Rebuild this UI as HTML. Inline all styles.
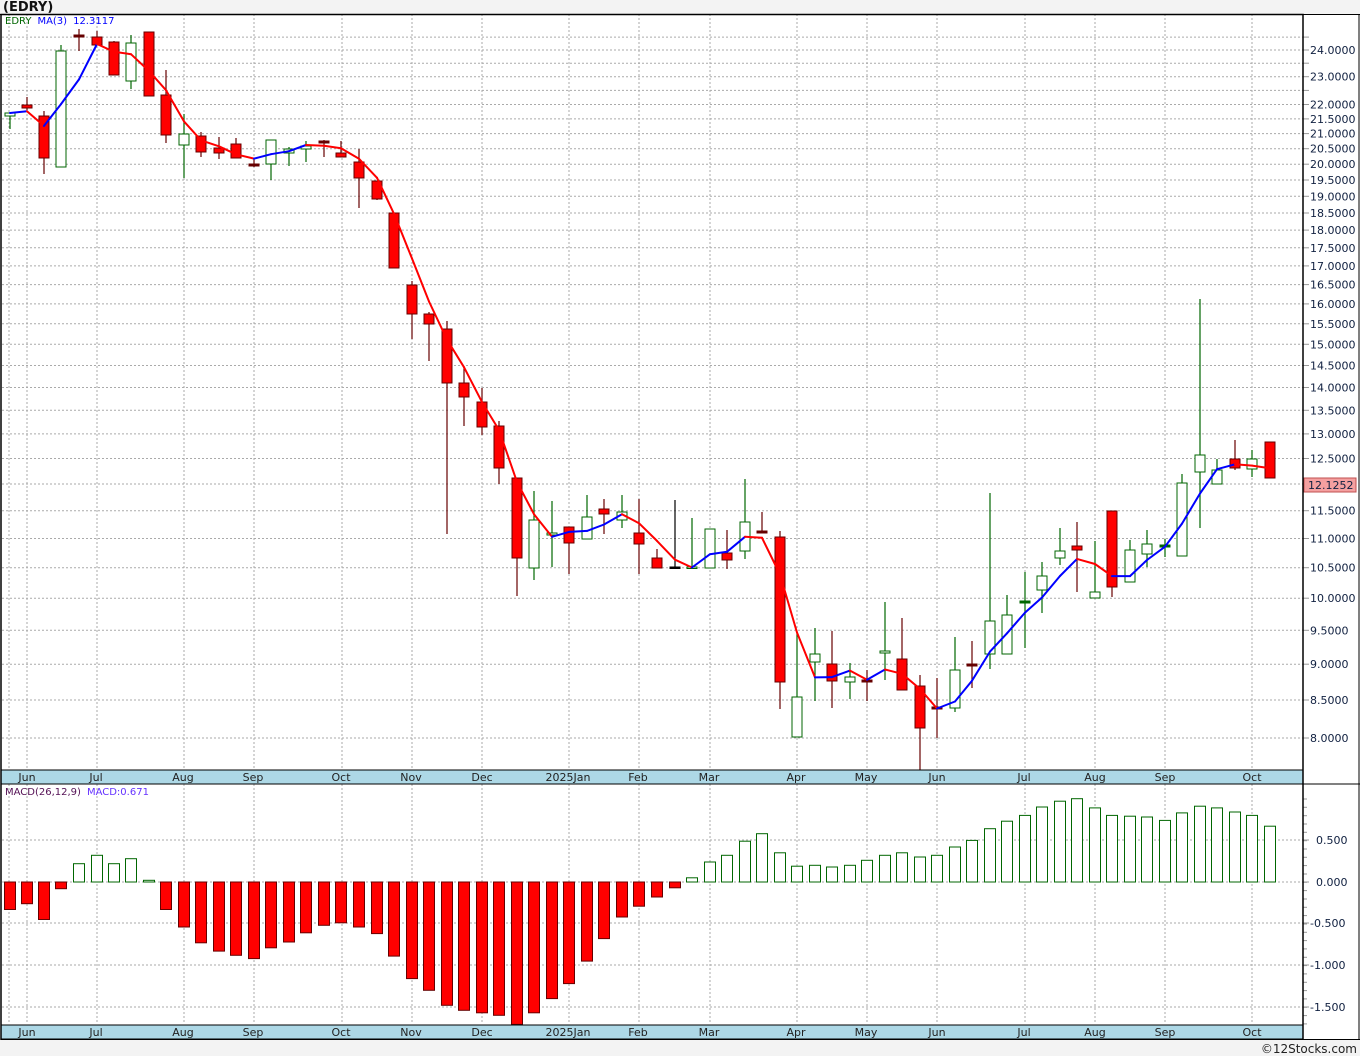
<!DOCTYPE html>
<html><head><meta charset="utf-8"><style>
html,body{margin:0;padding:0;background:#f3f3f3;}
svg{display:block;font-family:"DejaVu Sans","Liberation Sans",sans-serif;}
</style></head><body>
<svg id="c" xmlns="http://www.w3.org/2000/svg" width="1360" height="1056" viewBox="0 0 1360 1056"></svg>
<script>
const S=document.getElementById('c');let h='';
const add=s=>h+=s;
// backgrounds
add('<rect x="0" y="0" width="1360" height="1056" fill="#f3f3f3"/>');
add('<rect x="0" y="14" width="1360" height="1026" fill="#fff"/>');
add('<text x="3" y="11" font-size="13" font-weight="bold" fill="#111">(EDRY)</text>');
const Y=p=>50+(Math.log(24)-Math.log(p))*626.2;
const P=y=>24*Math.exp(-(y-50)/626.2);
// price grid
for(let p=8;p<=24.51;p+=0.5){const y=Y(p).toFixed(1);add(`<line x1="2" x2="1303" y1="${y}" y2="${y}" stroke="#aaa" stroke-dasharray="2,2"/>`);add(`<line x1="1303" x2="1309" y1="${y}" y2="${y}" stroke="#999"/>`);}
const labs=[24,23,22,21.5,21,20.5,20,19.5,19,18.5,18,17.5,17,16.5,16,15.5,15,14.5,14,13.5,13,12.5,11.5,11,10.5,10,9.5,9,8.5,8];
labs.forEach(p=>add(`<text x="1310" y="${(Y(p)+4).toFixed(1)}" font-size="11" fill="#102040">${p.toFixed(4)}</text>`));
// month grid
const mx=[9,27,97,184,254,342,412,482,569,639,710,797,867,937,1025,1095,1165,1252];
mx.forEach(x=>{add(`<line x1="${x}" x2="${x}" y1="14" y2="770" stroke="#aaa" stroke-dasharray="2,2"/>`);add(`<line x1="${x}" x2="${x}" y1="784" y2="1024" stroke="#aaa" stroke-dasharray="2,2"/>`);});
// macd grid
[840,882,923,965,1007].forEach(y=>add(`<line x1="2" x2="1303" y1="${y}" y2="${y}" stroke="#aaa" stroke-dasharray="2,2"/>`));
for(let y=799;y<1024;y+=8.33){add(`<line x1="1303" x2="1307" y1="${y.toFixed(1)}" y2="${y.toFixed(1)}" stroke="#999"/>`);}
[[840,'0.500'],[882,'0.000'],[923,'-0.500'],[965,'-1.000'],[1007,'-1.500']].forEach(a=>{add(`<line x1="1303" x2="1309" y1="${a[0]}" y2="${a[0]}" stroke="#999"/>`);add(`<text x="${a[1][0]=='-'?1310:1316}" y="${a[0]+4}" font-size="11" fill="#102040">${a[1]}</text>`);});
// candles [x,hi,lo,top,bot,type]
const C=[[10,112,129,113,116,'g'],[27,97,110,105,108,'r'],[44,111,174,116,158,'r'],[61,45,167,51,167,'g'],[79,29,51,35,37,'d'],[97,31,45,37,45,'r'],[114,41,75,42,75,'r'],[131,35,89,43,81,'g'],[149,32,96,32,96,'r'],[166,70,143,95,135,'r'],[184,114,178,134,145,'g'],[201,132,157,136,152,'r'],[219,137,159,148,153,'r'],[236,138,158,144,158,'r'],[254,158,167,164,166,'d'],[271,140,180,140,164,'g'],[289,147,166,149,153,'g'],[306,141,162,146,149,'g'],[324,140,157,141,143,'d'],
[341,141,157,153,157,'r'],[359,149,208,162,178,'r'],[377,181,200,181,199,'r'],[394,213,268,213,268,'r'],[412,281,339,285,314,'r'],[429,312,361,314,324,'r'],[447,321,534,329,383,'r'],[464,368,426,383,397,'r'],[482,388,435,402,427,'r'],[499,421,484,426,468,'r'],[517,478,596,478,558,'r'],[534,491,580,520,568,'g'],
[552,501,567,533,535,'g'],[569,527,574,527,543,'r'],[587,495,539,517,539,'g'],[604,499,534,509,514,'r'],[622,495,528,512,520,'g'],[639,499,574,533,544,'r'],[657,549,568,558,568,'r'],[675,500,568,567,568,'k'],[692,518,568,567,568,'g'],[710,529,568,529,568,'g'],[727,530,569,553,560,'r'],[745,479,559,522,551,'g'],[762,512,533,531,533,'d'],[780,531,709,537,682,'r'],[797,633,737,697,737,'g'],[815,628,701,654,662,'g'],[832,631,708,664,681,'r'],[850,663,699,677,682,'g'],[867,670,701,680,682,'d'],[885,602,680,651,653,'g'],[902,618,690,659,690,'r'],[920,675,770,686,728,'r'],[937,678,738,707,709,'d'],
[955,637,712,670,708,'g'],[972,641,688,664,666,'d'],[990,493,669,621,654,'g'],[1007,595,654,615,654,'g'],[1025,572,648,601,603,'gd'],[1042,562,613,576,590,'g'],[1060,528,565,551,558,'g'],[1077,522,592,546,550,'r'],[1095,541,598,592,598,'g'],[1112,511,597,511,587,'r'],[1130,540,582,550,582,'g'],[1147,530,567,544,554,'g'],[1165,539,557,545,547,'gd'],[1182,474,556,483,556,'g'],[1200,299,528,455,472,'g'],[1217,459,484,470,484,'g'],[1235,440,470,459,468,'r'],[1252,450,477,459,469,'g'],[1270,442,478,442,478,'r']];
const closes=[];
C.forEach(c=>{const [x,hi,lo,t,b,ty]=c;let col,fill;
 if(ty=='r'){col='#660000';fill='#ff0000';closes.push(b);}
 else if(ty=='g'){col='#006600';fill='#fff';closes.push(t);}
 else if(ty=='gd'){col='#006600';fill='#006600';closes.push((t+b)/2);}
 else if(ty=='k'){col='#000';fill='#000';closes.push((t+b)/2);}
 else {col='#660000';fill='#660000';closes.push((t+b)/2);}
 add(`<line x1="${x}" x2="${x}" y1="${hi}" y2="${lo}" stroke="${col}" stroke-width="1.2"/>`);
 add(`<rect x="${x-5}" y="${t}" width="10" height="${Math.max(b-t,1.5)}" fill="${fill}" stroke="${col}" stroke-width="1"/>`);
});
// MA(3)
const pr=closes.map(P);const ma=[];
for(let i=0;i<pr.length;i++){const a=pr[Math.max(0,i-2)],b=pr[Math.max(0,i-1)],c=pr[i];ma.push(Y((a+b+c)/3));}
for(let i=1;i<ma.length;i++){const col=ma[i]>ma[i-1]?'#ff0000':'#0000ff';add(`<line x1="${C[i-1][0]}" y1="${ma[i-1].toFixed(1)}" x2="${C[i][0]}" y2="${ma[i].toFixed(1)}" stroke="${col}" stroke-width="2" stroke-linecap="round"/>`);}
add('<text x="5" y="24" font-size="10"><tspan fill="#006600">EDRY</tspan><tspan fill="#0000ff" dx="6">MA(3)</tspan><tspan fill="#0000ff" dx="6">12.3117</tspan></text>');
// last price box
add('<rect x="1304" y="478" width="52" height="14" fill="#f4a0a0" stroke="#c05050"/><text x="1308" y="489" font-size="11" fill="#102040">12.1252</text>');
// MACD
const M=[-0.33,-0.26,-0.45,-0.08,0.22,0.32,0.22,0.28,0.02,-0.33,-0.54,-0.73,-0.83,-0.88,-0.92,-0.79,-0.72,-0.61,-0.52,-0.49,-0.54,-0.62,-0.89,-1.16,-1.30,-1.48,-1.54,-1.57,-1.60,-1.71,-1.57,-1.40,-1.22,-0.95,-0.68,-0.42,-0.29,-0.18,-0.07,0.05,0.24,0.32,0.49,0.58,0.35,0.19,0.20,0.18,0.20,0.26,0.32,0.35,0.30,0.32,0.42,0.50,0.64,0.73,0.80,0.90,0.97,1.00,0.89,0.80,0.79,0.78,0.74,0.83,0.91,0.89,0.84,0.80,0.67];
M.forEach((v,i)=>{const x=C[i][0];const y=882-v*83.3;if(v<0){add(`<rect x="${x-5.5}" y="882" width="11" height="${(y-882).toFixed(1)}" fill="#ff0000" stroke="#660000"/>`);}else{add(`<rect x="${x-5.5}" y="${y.toFixed(1)}" width="11" height="${(882-y).toFixed(1)}" fill="#fff" stroke="#006600"/>`);}});
add('<text x="5" y="795" font-size="10"><tspan fill="#551155">MACD(26,12,9)</tspan><tspan fill="#6633ff" dx="6">MACD:0.671</tspan></text>');
// date bands
const ml=[[27,'Jun'],[96,'Jul'],[183,'Aug'],[253,'Sep'],[341,'Oct'],[411,'Nov'],[482,'Dec'],[568,'2025Jan'],[638,'Feb'],[709,'Mar'],[796,'Apr'],[866,'May'],[937,'Jun'],[1024,'Jul'],[1095,'Aug'],[1165,'Sep'],[1252,'Oct']];
[770,1025].forEach(y0=>{add(`<rect x="1" y="${y0}" width="1302" height="14" fill="#add8e6" stroke="#000" stroke-width="1"/>`);ml.forEach(m=>add(`<text x="${m[0]}" y="${y0+11}" font-size="11" fill="#222" text-anchor="middle">${m[1]}</text>`));});
// frame
add('<rect x="1" y="14.5" width="1302" height="1025" fill="none" stroke="#000" stroke-width="1.5"/>');
add('<line x1="1303" y1="784" x2="1360" y2="784" stroke="#000"/>');
add('<line x1="1359" y1="14" x2="1359" y2="1040" stroke="#000"/>');
add('<line x1="0" y1="14.5" x2="1360" y2="14.5" stroke="#000"/>');
add('<line x1="1303" y1="1039.5" x2="1360" y2="1039.5" stroke="#000"/>');
add('<rect x="0" y="1040" width="1360" height="16" fill="#f3f3f3"/>');
add('<text x="1357" y="1053" font-size="12" fill="#222" text-anchor="end">©12Stocks.com</text>');
S.innerHTML=h;
</script>
</body></html>
